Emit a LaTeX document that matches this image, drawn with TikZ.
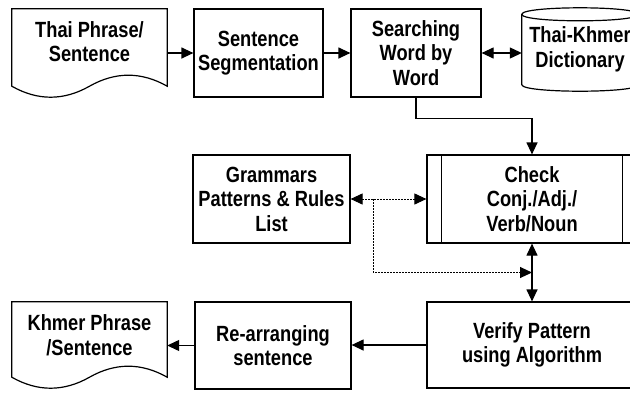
\documentclass[tikz,border=0pt]{standalone}
\usepackage{fontspec}
\setmainfont{Liberation Sans}[FakeStretch=0.83]
\usetikzlibrary{arrows.meta,calc}

\tikzset{
  outline/.style={line width=1.2bp, draw=black},
  label text/.style={font=\fontsize{22bp}{24.5bp}\selectfont\bfseries, align=center, inner sep=0pt},
  procbox/.style={outline, label text},
  frame/.style={label text, draw=none},
  head/.style={Triangle[length=12bp,width=11bp]},
  flow/.style={line width=1.2bp, -{Triangle[length=12bp,width=11bp]}},
  twoway/.style={line width=1.2bp, {Triangle[length=12bp,width=11bp]}-{Triangle[length=12bp,width=11bp]}},
  dots/.style={line width=1bp, dash pattern=on 1.5bp off 1.5bp},
}

\begin{document}
\begin{tikzpicture}[x=1bp,y=-1bp]
  \useasboundingbox (0,0) rectangle (630,392);
  \fill[white] (0,0) rectangle (630,392);
  \clip (0,0) rectangle (630,392);

  % ---- top row ----
  \node[frame, minimum width=155bp, minimum height=88bp] (thai) at (89.5,53) {};
  \node[label text] (thaitxt) at ($(thai.center)+(0,-11.5)$) {Thai Phrase/\\Sentence};
  \draw[outline] (thai.north west) -- (thai.north east)
    -- ($(thai.south east)+(0,-11)$)
    .. controls ($(thai.south east)+(-25.83,-25.67)$) and ($(thai.south)+(25.83,-25.67)$) .. ($(thai.south)+(0,-11)$)
    .. controls ($(thai.south)+(-25.83,3.67)$) and ($(thai.south west)+(25.83,3.67)$) .. ($(thai.south west)+(0,-11)$)
    -- cycle;

  \node[procbox, minimum width=129bp, minimum height=88bp] (seg) at (258.5,53) {Sentence\\Segmentation};
  \node[procbox, minimum width=130bp, minimum height=88bp] (search) at (416,53) {Searching\\Word by\\Word};

  \node[frame, minimum width=116bp, minimum height=83bp] (dict) at (580,49.5) {Thai-Khmer\\Dictionary};
  \draw[outline] ($(dict.north west)+(0,6.5)$)
    .. controls ($(dict.north west)+(0,-2.17)$) and ($(dict.north east)+(0,-2.17)$) .. ($(dict.north east)+(0,6.5)$)
    -- ($(dict.south east)+(0,-6.5)$)
    .. controls ($(dict.south east)+(0,2.17)$) and ($(dict.south west)+(0,2.17)$) .. ($(dict.south west)+(0,-6.5)$)
    -- cycle;
  \draw[outline] ($(dict.north west)+(0,6.5)$)
    .. controls ($(dict.north west)+(0,15.17)$) and ($(dict.north east)+(0,15.17)$) .. ($(dict.north east)+(0,6.5)$);

  % ---- middle row ----
  \node[procbox, minimum width=157bp, minimum height=88bp] (gram) at (271.5,199) {Grammars\\Patterns \& Rules\\List};
  \node[procbox, minimum width=210bp, minimum height=88bp] (check) at (532,199) {Check\\Conj./Adj./\\Verb/Noun};
  \draw[outline] ($(check.north west)+(15,0)$) -- ($(check.south west)+(15,0)$);
  \draw[outline] ($(check.north east)+(-15,0)$) -- ($(check.south east)+(-15,0)$);

  % ---- bottom row ----
  \node[frame, minimum width=155bp, minimum height=86bp] (khmer) at (89.5,345) {};
  \node[label text] (khmertxt) at ($(khmer.center)+(0,-10)$) {Khmer Phrase\\/Sentence};
  \draw[outline] (khmer.north west) -- (khmer.north east)
    -- ($(khmer.south east)+(0,-11)$)
    .. controls ($(khmer.south east)+(-25.83,-25.67)$) and ($(khmer.south)+(25.83,-25.67)$) .. ($(khmer.south)+(0,-11)$)
    .. controls ($(khmer.south)+(-25.83,3.67)$) and ($(khmer.south west)+(25.83,3.67)$) .. ($(khmer.south west)+(0,-11)$)
    -- cycle;

  \node[procbox, minimum width=156bp, minimum height=87bp] (rearr) at (273,345.5) {Re-arranging\\sentence};
  \node[procbox, minimum width=210bp, minimum height=86bp] (verify) at (532,345) {Verify Pattern\\using Algorithm};

  % ---- connectors ----
  \draw[flow] (thai.east) -- (seg.west);
  \draw[flow] (seg.east) -- (search.west);
  \draw[twoway] (search.east) -- (search.east -| dict.west);
  \draw[flow] (search.south) -- ++(0,21) -| (check.north);

  \coordinate (branch) at ($(gram.east)+(23,0)$);
  \coordinate (junction) at ($(check.south)!0.5!(verify.north)$);
  \draw[dots, {Triangle[length=12bp,width=11bp]}-{Triangle[length=12bp,width=11bp]}] (gram.east) -- (check.west);
  \draw[dots, -{Triangle[length=12bp,width=11bp]}] (branch) |- (junction);

  \draw[twoway] (check.south) -- (verify.north);
  \draw[flow] (verify.west) -- (verify.west -| rearr.east);
  \draw[flow] (rearr.west) -- (rearr.west -| khmer.east);
\end{tikzpicture}
\end{document}
